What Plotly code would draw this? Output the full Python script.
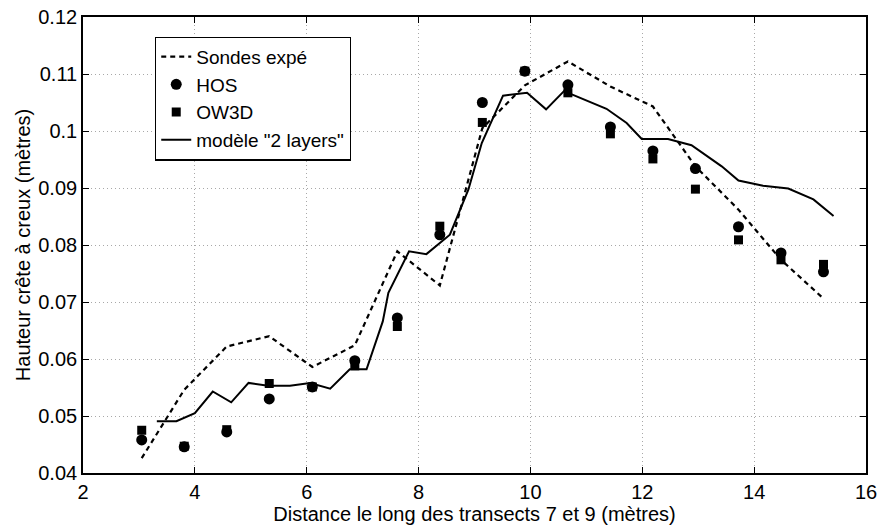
import plotly.graph_objects as go

# Marker positions (HOS / OW3D / Sondes)
x_pts = [3.05, 3.81, 4.57, 5.33, 6.10, 6.86, 7.62, 8.38, 9.14, 9.90,
         10.67, 11.43, 12.19, 12.95, 13.72, 14.48, 15.24]
sondes = [0.0426, 0.0546, 0.0622, 0.0640, 0.0586, 0.0624, 0.0789, 0.0729, 0.1005, 0.1080,
          0.1122, 0.1078, 0.1043, 0.0938, 0.0862, 0.0774, 0.0706]
hos = [0.0458, 0.0446, 0.0472, 0.0530, 0.0551, 0.0597, 0.0672, 0.0818, 0.1050, 0.1105,
       0.1081, 0.1007, 0.0965, 0.0934, 0.0832, 0.0786, 0.0753]
ow3d = [0.0475, 0.0447, 0.0476, 0.0557, 0.0551, 0.0588, 0.0657, 0.0833, 0.1015, 0.1105,
        0.1067, 0.0995, 0.0951, 0.0898, 0.0809, 0.0774, 0.0766]

# "2 layers" model
x_model = [3.32, 3.67, 4.00, 4.32, 4.65, 4.96, 5.31, 5.70, 6.06, 6.42, 6.77, 7.07, 7.36, 7.46,
           7.83, 8.14, 8.56, 8.68, 8.89, 9.13, 9.51, 9.94, 10.28, 10.60, 11.36, 11.72, 11.99,
           12.46, 12.88, 13.42, 13.72, 14.16, 14.61, 15.06, 15.42]
y_model = [0.0491, 0.0491, 0.0505, 0.0543, 0.0524, 0.0558, 0.0553, 0.0553, 0.0558, 0.0548,
           0.0582, 0.0582, 0.0666, 0.0716, 0.0789, 0.0784, 0.0818, 0.0847, 0.0897, 0.0979,
           0.1062, 0.1067, 0.1038, 0.1070, 0.1039, 0.1014, 0.0986, 0.0986, 0.0975, 0.0938,
           0.0913, 0.0904, 0.0899, 0.0880, 0.0851]

y_ticks = [0.04, 0.05, 0.06, 0.07, 0.08, 0.09, 0.1, 0.11, 0.12]
y_ticktext = ["0.04", "0.05", "0.06", "0.07", "0.08", "0.09", "0.1", "0.11", "0.12"]
x_ticks = [2, 4, 6, 8, 10, 12, 14, 16]

FAM = "Liberation Sans, Arial, sans-serif"
font = dict(family=FAM, size=20, color="black")

fig = go.Figure()
fig.add_trace(go.Scatter(x=x_pts, y=sondes, mode="lines", name="Sondes expé",
                         line=dict(color="black", width=2.2, dash="5px,4px")))
fig.add_trace(go.Scatter(x=x_pts, y=hos, mode="markers", name="HOS",
                         marker=dict(symbol="circle", size=11, color="black")))
fig.add_trace(go.Scatter(x=x_pts, y=ow3d, mode="markers", name="OW3D",
                         marker=dict(symbol="square", size=9, color="black")))
fig.add_trace(go.Scatter(x=x_model, y=y_model, mode="lines", name='modèle "2 layers"',
                         line=dict(color="black", width=2)))

axis_common = dict(showline=True, linecolor="black", linewidth=1.6, mirror="ticks",
                   ticks="inside", ticklen=6, tickcolor="black", tickwidth=1,
                   showgrid=True, gridcolor="#a8a8a8", griddash="1px,3px", gridwidth=1,
                   zeroline=False, tickfont=font, automargin=False)

fig.update_layout(
    width=881, height=526,
    margin=dict(l=83, r=15, t=17, b=53),
    paper_bgcolor="white", plot_bgcolor="white",
    font=font,
    showlegend=True,
    legend=dict(x=0.092, y=0.957, xanchor="left", yanchor="top",
                bgcolor="white", bordercolor="black", borderwidth=1.2,
                font=dict(family=FAM, size=19, color="black"),
                itemwidth=30, tracegroupgap=0),
    xaxis=dict(range=[2, 16], tickvals=x_ticks, ticklabelstandoff=0,
               title=dict(text="Distance le long des transects 7 et 9 (mètres)", standoff=0,
                          font=font),
               **axis_common),
    yaxis=dict(range=[0.04, 0.12], tickvals=y_ticks, ticktext=y_ticktext,
               ticklabelstandoff=0,
               title=dict(text="Hauteur crête à creux (mètres)", standoff=2, font=font),
               **axis_common),
)

fig.write_html("out.html", config={"displayModeBar": False},
               post_script="document.body.style.margin='0';document.body.style.padding='0';")
